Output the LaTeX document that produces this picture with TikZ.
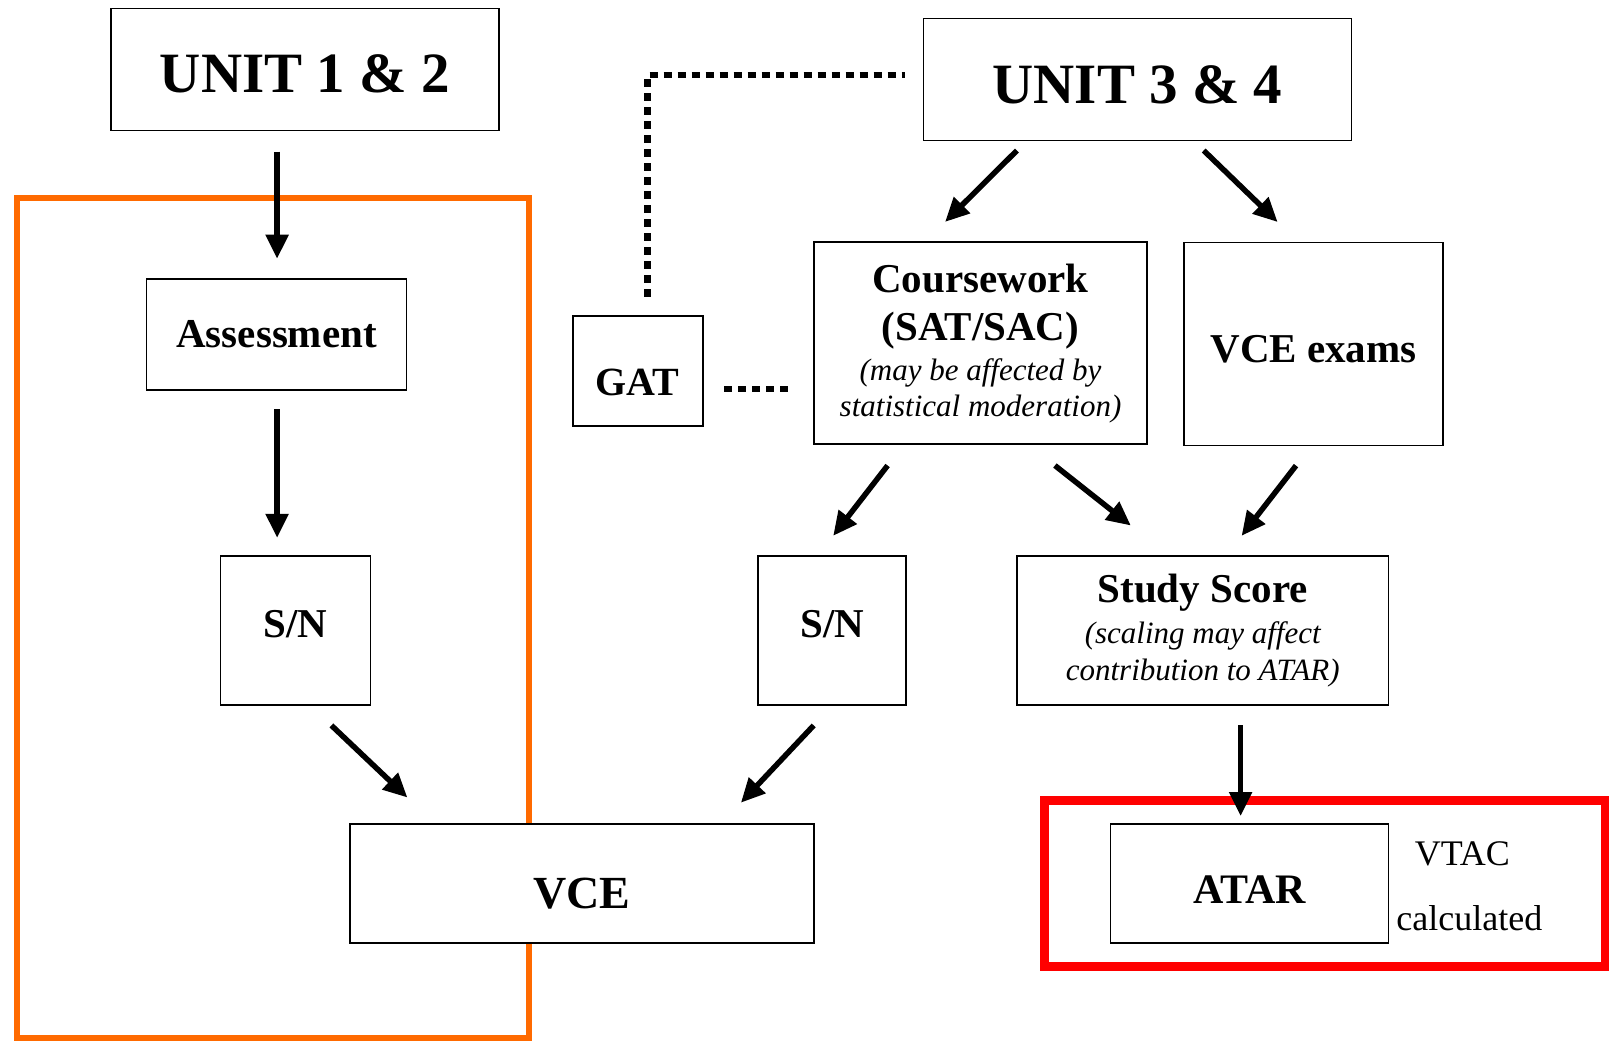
\documentclass[tikz,border=0pt]{standalone}
\usepackage{fontspec}
\setmainfont{Liberation Serif}
\usetikzlibrary{arrows.meta}
\definecolor{orangeframe}{HTML}{FF6A00}
\definecolor{redframe}{HTML}{FF0000}
\newcommand\bigbold{\fontsize{41}{48}\selectfont\bfseries}
\newcommand\smallital{\fontsize{31}{48}\selectfont\mdseries\itshape}
\newcommand\lowtext[2]{\raisebox{-#1}[0pt][0pt]{#2}}
\begin{document}
\begin{tikzpicture}[x=1pt,y=-1pt,
  boxnode/.style={draw, line width=1.6pt, fill=white, inner sep=0pt, align=center},
  ttl/.style={font=\bigbold},
  arr/.style={line width=5.5pt, -{Triangle[length=24pt,width=22pt]}},
  dots/.style={line width=6.5pt, dash pattern=on 8pt off 6pt},
]
\useasboundingbox (0,0) rectangle (1609,1042);
\fill[white] (0,0) rectangle (1609,1042);

% frames
\draw[orangeframe, line width=6pt] (17,197.5) rectangle (528.5,1037.5);
\draw[redframe, line width=9pt] (1044.6,800.4) rectangle (1605,966.6);

% boxes
\node[boxnode, minimum width=388pt, minimum height=122pt, font=\fontsize{57}{60}\selectfont\bfseries] (u12) at (304.8,69.3) {\lowtext{23pt}{UNIT 1 \& 2}};
\node[boxnode, minimum width=428pt, minimum height=122pt, font=\fontsize{57}{60}\selectfont\bfseries] (u34) at (1137.5,79.5) {\lowtext{24pt}{UNIT 3 \& 4}};
\node[boxnode, ttl, minimum width=260pt, minimum height=111pt] (as) at (276.6,334.5) {Assessment};
\node[boxnode, ttl, minimum width=150pt, minimum height=149pt] (snl) at (295.5,630.6) {\lowtext{7pt}{S/N}};
\node[boxnode, ttl, minimum width=148pt, minimum height=149pt] (snm) at (832.2,630.6) {\lowtext{7pt}{S/N}};
\node[boxnode, font=\fontsize{40}{48}\selectfont\bfseries, minimum width=130pt, minimum height=110pt] (gat) at (637.7,371) {\lowtext{24pt}{GAT}};
\node[boxnode, ttl, minimum width=333.5pt, minimum height=202pt] (cw) at (980.5,343.2)
  {Coursework\\(SAT/SAC)\\[-8pt]{\smallital (may be affected by}\\[-12pt]{\smallital statistical moderation)}};
\node[boxnode, ttl, minimum width=258.6pt, minimum height=203pt] (ex) at (1313.5,343.8) {\lowtext{19pt}{VCE exams}};
\node[boxnode, ttl, minimum width=371.5pt, minimum height=149pt] (ss) at (1202.7,630.6)
  {Study Score\\[-7pt]{\smallital (scaling may affect}\\[-11pt]{\smallital contribution to ATAR)}};
\node[boxnode, font=\fontsize{46}{50}\selectfont\bfseries, minimum width=464pt, minimum height=119pt] (vce) at (581.8,883.5) {\lowtext{24.5pt}{VCE}};
\node[boxnode, font=\fontsize{42}{48}\selectfont\bfseries, minimum width=278pt, minimum height=119pt] (atar) at (1249.4,883.5) {\lowtext{20pt}{ATAR}};
\node[font=\fontsize{36}{40}\selectfont, inner sep=0pt] (vtac) at (1462.3,853.8) {VTAC};
\node[font=\fontsize{36}{40}\selectfont, inner sep=0pt] (calc) at (1469.4,918.4) {calculated};

% arrows
\draw[arr] ([shift={(-27.7,20.5)}]u12.south) -- ([shift={(0.5,-19.5)}]as.north);
\draw[arr] ([shift={(0.5,18.5)}]as.south) -- ([shift={(-18.4,-17.5)}]snl.north);
\draw[arr] ([shift={(35.9,19.5)}]snl.south) -- ([shift={(-174.4,-25.7)}]vce.north);
\draw[arr] ([shift={(-18.5,19.5)}]snm.south) -- ([shift={(159.1,-20.5)}]vce.north);
\draw[arr] ([shift={(-120.6,9.2)}]u34.south) -- ([shift={(-35.4,-19.5)}]cw.north);
\draw[arr] ([shift={(66.2,9.2)}]u34.south) -- ([shift={(-35.9,-19.5)}]ex.north);
\draw[arr] ([shift={(-92.9,20.5)}]cw.south) -- ([shift={(1,-19.5)}]snm.north);
\draw[arr] ([shift={(74.4,20.5)}]cw.south) -- ([shift={(-71.9,-29.8)}]ss.north);
\draw[arr] ([shift={(-17.5,19.5)}]ex.south) -- ([shift={(38.9,-19.5)}]ss.north);
\draw[arr] ([shift={(37.9,19.5)}]ss.south) -- ([shift={(-8.8,-7.2)}]atar.north);

% dotted links
\draw[dots] ([shift={(20.5,17.9)}]gat.east) -- ([shift={(-21.5,45.7)}]cw.west);
\draw[dots] ([shift={(9.8,-18.5)}]gat.north) |- ([shift={(-17.4,-4.6)}]u34.west);
\end{tikzpicture}
\end{document}
